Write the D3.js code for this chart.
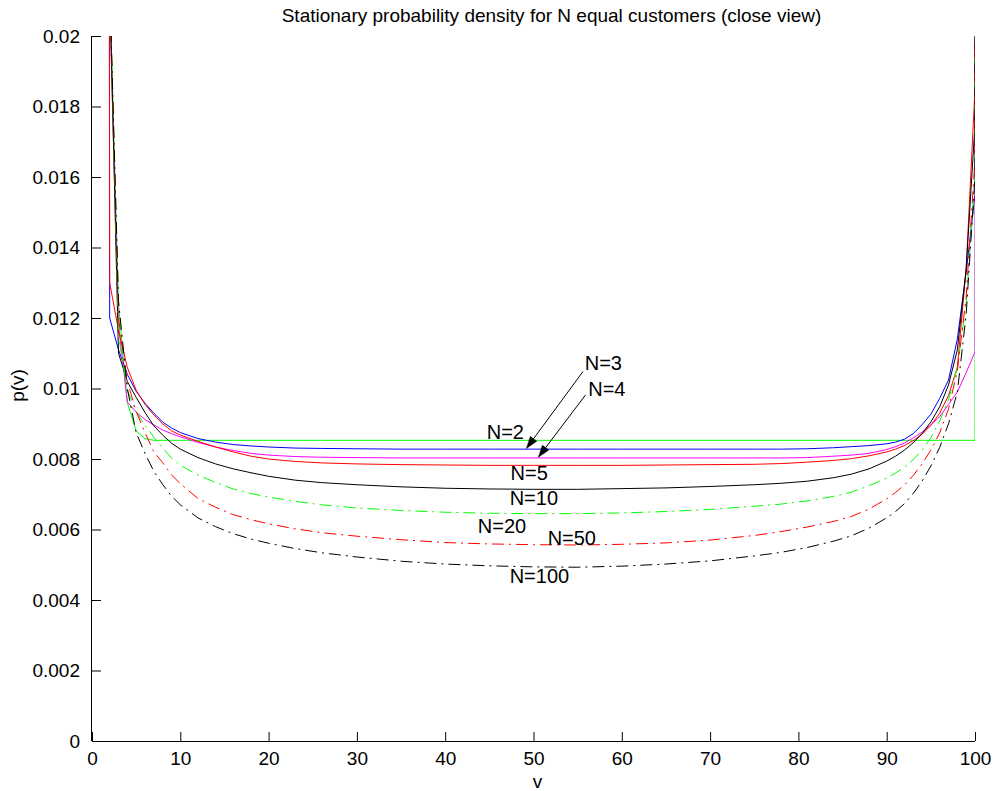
<!DOCTYPE html>
<html>
<head>
<meta charset="utf-8">
<script src="https://cdn.jsdelivr.net/npm/d3@7"></script>
<style>
  html, body { margin: 0; padding: 0; background: #fff; }
  svg { display: block; font-family: "Liberation Sans", Arial, Helvetica, sans-serif; }
</style>
</head>
<body>
<svg id="chart" width="997" height="791"></svg>
<script>
// ---------- data ----------
const v = [1,2,3,4,5,6,7,8,9,10,12,14,16,18,20,23,26,30,35,40,45,50,55,60,65,70,75,78,81,84,86,88,90,91,92,93,94,95,96,97,98,99,100,101];

const pN2 = [0.3,0.0215,0.0124,0.0096,0.0088,0.00858,0.00853,0.00853,0.00853,0.00853,0.00853,0.00853,0.00853,0.00853,0.00853,0.00853,0.00853,0.00853,0.00853,0.00853,0.00853,0.00853,0.00853,0.00853,0.00853,0.00853,0.00853,0.00853,0.00853,0.00853,0.00853,0.00853,0.00853,0.00853,0.00853,0.00853,0.00853,0.00853,0.00853,0.00853,0.00853,0.00853,0.00853,0.3];
const pN3 = [0.3,0.0120,0.0111,0.0104,0.00992,0.00958,0.00930,0.00905,0.00888,0.00875,0.00858,0.00848,0.00841,0.00837,0.00834,0.00831,0.00830,0.00829,0.00828,0.00828,0.00828,0.00828,0.00828,0.00828,0.00828,0.00828,0.00828,0.00828,0.00829,0.00832,0.00835,0.00838,0.00843,0.00848,0.00856,0.00872,0.00897,0.00927,0.00972,0.01024,0.0114,0.0133,0.0155,0.3];
const pN4 = [0.3,0.0210,0.0118,0.00962,0.00933,0.00912,0.00897,0.00882,0.00872,0.00863,0.00847,0.00834,0.00824,0.00816,0.00811,0.00807,0.00805,0.00804,0.00803,0.00803,0.00803,0.00803,0.00803,0.00803,0.00803,0.00803,0.00803,0.00803,0.00804,0.00808,0.00811,0.00816,0.00827,0.00835,0.00845,0.00860,0.00876,0.00897,0.00920,0.00955,0.00990,0.01045,0.01104,0.3];
const pN5 = [0.3,0.0130,0.01165,0.0106,0.00995,0.00955,0.00925,0.00900,0.00880,0.00868,0.00850,0.00834,0.00820,0.00808,0.00800,0.00793,0.00789,0.00786,0.00784,0.00783,0.00782,0.00782,0.00782,0.00782,0.00783,0.00784,0.00785,0.00787,0.00791,0.00796,0.00801,0.00809,0.00820,0.00828,0.00838,0.00852,0.00870,0.00895,0.00930,0.00980,0.0106,0.0134,0.0185,0.3];
const pN10 = [0.3,0.0215,0.0110,0.0102,0.00975,0.00932,0.00894,0.00868,0.00845,0.00828,0.00804,0.00786,0.00772,0.00761,0.00751,0.00740,0.00733,0.00727,0.00721,0.00717,0.00715,0.00714,0.00714,0.00716,0.00718,0.00722,0.00727,0.00731,0.00737,0.00747,0.00757,0.00772,0.00794,0.00808,0.00825,0.00846,0.00872,0.00905,0.00948,0.0101,0.0111,0.0134,0.0175,0.3];
const pN20 = [0.3,0.0215,0.0115,0.00995,0.00935,0.00895,0.00862,0.00832,0.00803,0.00782,0.00755,0.00733,0.00715,0.00702,0.00692,0.00680,0.00670,0.00661,0.00654,0.00649,0.00646,0.00645,0.00645,0.00647,0.00651,0.00657,0.00666,0.00672,0.00681,0.00694,0.00706,0.00724,0.00746,0.00760,0.00777,0.00798,0.00825,0.00860,0.00908,0.00968,0.0106,0.0124,0.0160,0.3];
const pN50 = [0.3,0.0215,0.0120,0.0102,0.00935,0.00875,0.00820,0.00790,0.00755,0.00730,0.00688,0.00663,0.00642,0.00628,0.00616,0.00602,0.00591,0.00581,0.00571,0.00563,0.00559,0.00557,0.00556,0.00558,0.00562,0.00570,0.00583,0.00594,0.00607,0.00623,0.00637,0.00658,0.00687,0.00705,0.00726,0.00753,0.00786,0.00825,0.00874,0.00942,0.0105,0.0126,0.0165,0.3];
const pN100 = [0.3,0.0215,0.0125,0.0100,0.00875,0.00816,0.00765,0.00728,0.00695,0.00670,0.00633,0.00608,0.00588,0.00573,0.00561,0.00546,0.00534,0.00522,0.00510,0.00502,0.00497,0.00494,0.00493,0.00496,0.00502,0.00511,0.00525,0.00535,0.00549,0.00567,0.00582,0.00604,0.00633,0.00651,0.00673,0.00702,0.00737,0.00780,0.00833,0.00900,0.00990,0.0121,0.0160,0.3];

const xTicks = [0,10,20,30,40,50,60,70,80,90,100];
const yTicks = [0,0.002,0.004,0.006,0.008,0.01,0.012,0.014,0.016,0.018,0.02];
const yTickLabels = ["0","0.002","0.004","0.006","0.008","0.01","0.012","0.014","0.016","0.018","0.02"];

const labelTexts = ["N=2","N=3","N=4","N=5","N=10","N=20","N=50","N=100"];
const labelV = [44.7, 55.8, 56.2, 47.4, 47.3, 43.7, 51.6, 47.3];
const labelP = [0.00857, 0.01052, 0.00979, 0.00740, 0.00670, 0.00591, 0.00556, 0.00448];

// arrows (annotation, from text to curve) in data coordinates
const arrowFromV = [55.6, 55.9];
const arrowFromP = [0.01048, 0.00982];
const arrowToV = [49.2, 50.55];
const arrowToP = [0.00830, 0.00805];

const titleText = "Stationary probability density for N equal customers (close view)";

// ---------- layout ----------
const svg = d3.select("#chart");
const mLeft = 92, mRight = 975, mTop = 36, mBottom = 741;
const x = d3.scaleLinear().domain([0, 100]).range([mLeft, mRight]);
const y = d3.scaleLinear().domain([0, 0.02]).range([mBottom, mTop]);

const series = [
  {vals: pN2,  color: "#00ff00", dash: null},
  {vals: pN3,  color: "#0000ff", dash: null},
  {vals: pN4,  color: "#ff00ff", dash: null},
  {vals: pN5,  color: "#ff0000", dash: null},
  {vals: pN10, color: "#000000", dash: null},
  {vals: pN20, color: "#00ff00", dash: "12,5,2,5"},
  {vals: pN50, color: "#ff0000", dash: "12,5,2,5"},
  {vals: pN100,color: "#000000", dash: "12,5,2,5"}
];

svg.append("defs").append("clipPath").attr("id", "plotclip")
  .append("rect").attr("x", mLeft).attr("y", mTop)
  .attr("width", mRight - mLeft).attr("height", mBottom - mTop);

const line = d3.line().x((d, i) => x(v[i])).y(d => y(d));

const plot = svg.append("g").attr("clip-path", "url(#plotclip)");
series.forEach(s => {
  plot.append("path")
    .attr("d", line(s.vals))
    .attr("fill", "none")
    .attr("stroke", s.color)
    .attr("stroke-width", 1)
    .attr("stroke-dasharray", s.dash);
});

// ---------- axes (MATLAB style: ticks inward, no box) ----------
const tickFont = 19;
const xAxis = d3.axisBottom(x).tickValues(xTicks).tickSize(-9).tickPadding(11);
const gx = svg.append("g").attr("transform", `translate(0,${mBottom})`).call(xAxis);
const yAxis = d3.axisLeft(y).tickValues(yTicks).tickSize(-9).tickPadding(12)
  .tickFormat((d, i) => yTickLabels[i]);
const gy = svg.append("g").attr("transform", `translate(${mLeft},0)`).call(yAxis);

gx.select(".domain").attr("d", `M${mLeft},0.5H${mRight}`);
gy.select(".domain").attr("d", `M-0.5,${mBottom}V${mTop}`);
[gx, gy].forEach(g => {
  g.select(".domain").attr("stroke", "#000").attr("stroke-width", 1);
  g.selectAll(".tick line").attr("stroke", "#000");
  g.selectAll(".tick text").attr("fill", "#000")
    .style("font-family", '"Liberation Sans", Arial, sans-serif')
    .style("font-size", tickFont + "px");
});

// ---------- titles ----------
svg.append("text").attr("x", (mLeft + mRight) / 2 + 18).attr("y", 22)
  .attr("text-anchor", "middle").style("font-size", "19px").text(titleText);
svg.append("text").attr("x", (mLeft + mRight) / 2 + 4).attr("y", 788)
  .attr("text-anchor", "middle").style("font-size", tickFont + "px").text("v");
svg.append("text").attr("transform", `translate(24,${(mTop + mBottom) / 2 - 3}) rotate(-90)`)
  .attr("text-anchor", "middle").style("font-size", tickFont + "px").text("p(v)");

// ---------- curve labels ----------
labelTexts.forEach((t, i) => {
  svg.append("text").attr("x", x(labelV[i])).attr("y", y(labelP[i]))
    .style("font-size", "20px").attr("fill", "#000").text(t);
});

// ---------- arrows ----------
arrowFromV.forEach((fv, i) => {
  const x1 = x(fv), y1 = y(arrowFromP[i]);
  const x2 = x(arrowToV[i]), y2 = y(arrowToP[i]);
  const ang = Math.atan2(y2 - y1, x2 - x1);
  const L = 12, W = 4;
  const bx = x2 - L * Math.cos(ang), by = y2 - L * Math.sin(ang);
  svg.append("line").attr("x1", x1).attr("y1", y1).attr("x2", bx).attr("y2", by)
    .attr("stroke", "#000").attr("stroke-width", 1);
  const p1 = [bx + W * Math.sin(ang), by - W * Math.cos(ang)];
  const p2 = [bx - W * Math.sin(ang), by + W * Math.cos(ang)];
  svg.append("path").attr("d", `M${x2},${y2}L${p1[0]},${p1[1]}L${p2[0]},${p2[1]}Z`)
    .attr("fill", "#000").attr("stroke", "#000").attr("stroke-width", 0.5);
});
</script>
</body>
</html>
